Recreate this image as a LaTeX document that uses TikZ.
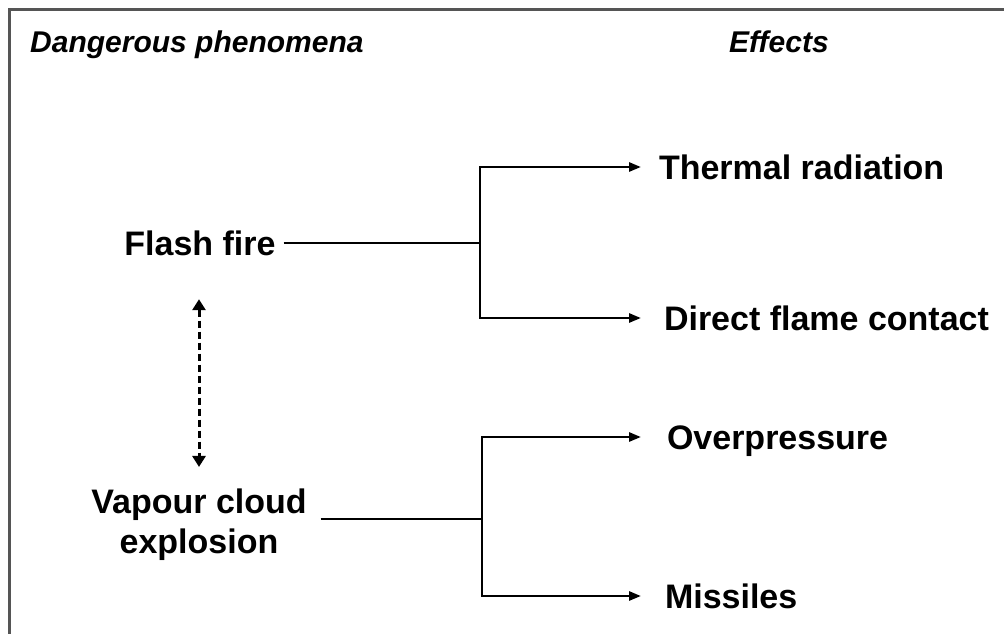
\documentclass[tikz,border=0pt]{standalone}
\usepackage{fontspec}
\setmainfont{Liberation Sans}
\usetikzlibrary{arrows.meta}
\definecolor{framegray}{RGB}{85,85,85}
\tikzset{
  frameline/.style={draw=framegray, line width=3pt},
  link/.style={draw=black, line width=2.7pt},
  arrowlink/.style={link, -{Triangle[length=12pt,width=9pt]}},
  dasharrow/.style={draw=black, line width=3pt, dash pattern=on 7pt off 4pt,
    {Triangle[length=11pt,width=13pt]}-{Triangle[length=11pt,width=13pt]}},
  heading/.style={font=\fontsize{30}{36}\selectfont\bfseries\itshape, inner sep=0pt, anchor=base west},
  label/.style={font=\fontsize{34}{41}\selectfont\bfseries, inner sep=0pt,
    text height=24pt, text depth=0pt},
  effect/.style={label, anchor=west},
}
\begin{document}
\begin{tikzpicture}[x=1pt, y=-1pt]
  \useasboundingbox (0,0) rectangle (1004,634);
  % open frame: top and left edges only
  \draw[frameline] (9,634) -- (9,10) -- (1004,10);

  % column headings
  \node[heading] (hphen) at (30,53) {Dangerous phenomena};
  \node[heading] (heff) at (729,53) {Effects};

  % phenomena
  \node[label, outer xsep=8pt] (flash) at (200,243) {Flash fire};
  \node[font=\fontsize{34}{40}\selectfont\bfseries, inner sep=0pt, outer xsep=14pt,
        align=center] (vapour) at (199,525) {Vapour cloud\\explosion};

  % effects (arrow tips end at x = 641)
  \node[effect, outer xsep=18pt] (thermal)  at (641,167) {Thermal radiation};
  \node[effect, outer xsep=23pt] (direct)   at (641,318) {Direct flame contact};
  \node[effect, outer xsep=26pt] (overp)    at (641,437) {Overpressure};
  \node[effect, outer xsep=24pt] (missiles) at (641,596) {Missiles};

  % branching junctions
  \coordinate (j1) at (480,243);
  \coordinate (j2) at (482,519);

  \draw[link] (flash.east) -- (j1);
  \draw[arrowlink] (j1) |- (thermal.west);
  \draw[arrowlink] (j1) |- (direct.west);

  \draw[link] (vapour.east |- j2) -- (j2);
  \draw[arrowlink] (j2) |- (overp.west);
  \draw[arrowlink] (j2) |- (missiles.west);

  % two-way dashed link between the phenomena
  \draw[dasharrow, shorten <=44pt, shorten >=22pt]
    ([xshift=-1pt]flash.south) -- ([xshift=-1pt]flash.south |- vapour.north);
\end{tikzpicture}
\end{document}
